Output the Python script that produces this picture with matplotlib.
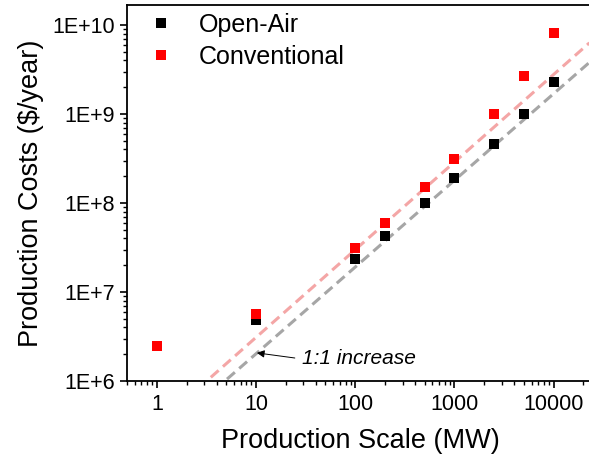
import numpy as np
import matplotlib.pyplot as plt
from matplotlib.ticker import LogLocator, FixedLocator, FixedFormatter, NullFormatter

plt.rcParams['font.family'] = ['Liberation Sans', 'DejaVu Sans']

# data
scale_mw = [1, 10, 100, 200, 500, 1000, 2500, 5000, 10000]
open_air = [2.45e6, 4.8e6, 2.35e7, 4.3e7, 1.0e8, 1.9e8, 4.6e8, 9.9e8, 2.3e9]
conventional = [2.5e6, 5.6e6, 3.1e7, 6.0e7, 1.5e8, 3.1e8, 9.9e8, 2.7e9, 8.1e9]

# 1:1 guide lines (start / end points)
gray_x = [5.1, 23000]
gray_y = [1.05e6, 3.8e9]
pink_x = [3.5, 23000]
pink_y = [1.1e6, 6.3e9]

xticks = [1, 10, 100, 1000, 10000]
xlabels = ["1", "10", "100", "1000", "10000"]
yticks = [1e6, 1e7, 1e8, 1e9, 1e10]
ylabels = ["1E+6", "1E+7", "1E+8", "1E+9", "1E+10"]

fig = plt.figure(figsize=(5.89, 4.63), dpi=100)
ax = fig.add_axes([127/589, 1 - 381/463, 466/589, 376/463])

ax.plot(gray_x, gray_y, ls=(0, (3.4, 1.9)), color="#a6a6a6", lw=2.2, zorder=1)
ax.plot(pink_x, pink_y, ls=(0, (3.4, 1.9)), color="#f4a6a6", lw=2.2, zorder=1)

ax.plot(scale_mw, open_air, "s", color="black", ms=7.5, mew=0, label="Open-Air", zorder=3)
ax.plot(scale_mw, conventional, "s", color="#ff0000", ms=7.5, mew=0, label="Conventional", zorder=4)

ax.set_xscale("log")
ax.set_yscale("log")
ax.set_xlim(0.5, 10**4.398)
ax.set_ylim(1e6, 10**10.225)

ax.xaxis.set_major_locator(FixedLocator(xticks))
ax.xaxis.set_major_formatter(FixedFormatter(xlabels))
ax.yaxis.set_major_locator(FixedLocator(yticks))
ax.yaxis.set_major_formatter(FixedFormatter(ylabels))
ax.xaxis.set_minor_locator(LogLocator(base=10, subs=np.arange(2, 10), numticks=20))
ax.yaxis.set_minor_locator(LogLocator(base=10, subs=np.arange(2, 10), numticks=20))
ax.xaxis.set_minor_formatter(NullFormatter())
ax.yaxis.set_minor_formatter(NullFormatter())

ax.tick_params(which="major", direction="out", length=5, width=1.2, labelsize=15.5, pad=4)
ax.tick_params(which="minor", direction="out", length=3, width=1.0)
ax.tick_params(top=False, right=False)
for s in ["left", "bottom", "top"]:
    ax.spines[s].set_linewidth(1.3)
ax.spines["right"].set_visible(False)

ax.set_xlabel("Production Scale (MW)", fontsize=19.5, labelpad=10)
ax.set_ylabel("Production Costs ($/year)", fontsize=19.5, labelpad=6)

ax.annotate("1:1 increase", xy=(10.2, 2.07e6), xytext=(28.9, 1.77e6),
            fontsize=15, style="italic", va="center", ha="left",
            arrowprops=dict(arrowstyle="-|>", color="black", lw=0.7,
                            relpos=(0, 0.5), shrinkA=3, shrinkB=0,
                            mutation_scale=11))

ax.legend(loc="upper left", frameon=False, fontsize=18, handlelength=0.6,
          handletextpad=1.2, labelspacing=0.3, borderaxespad=0.3,
          bbox_to_anchor=(0.02, 1.025))

fig.savefig("out.png", dpi=100)
